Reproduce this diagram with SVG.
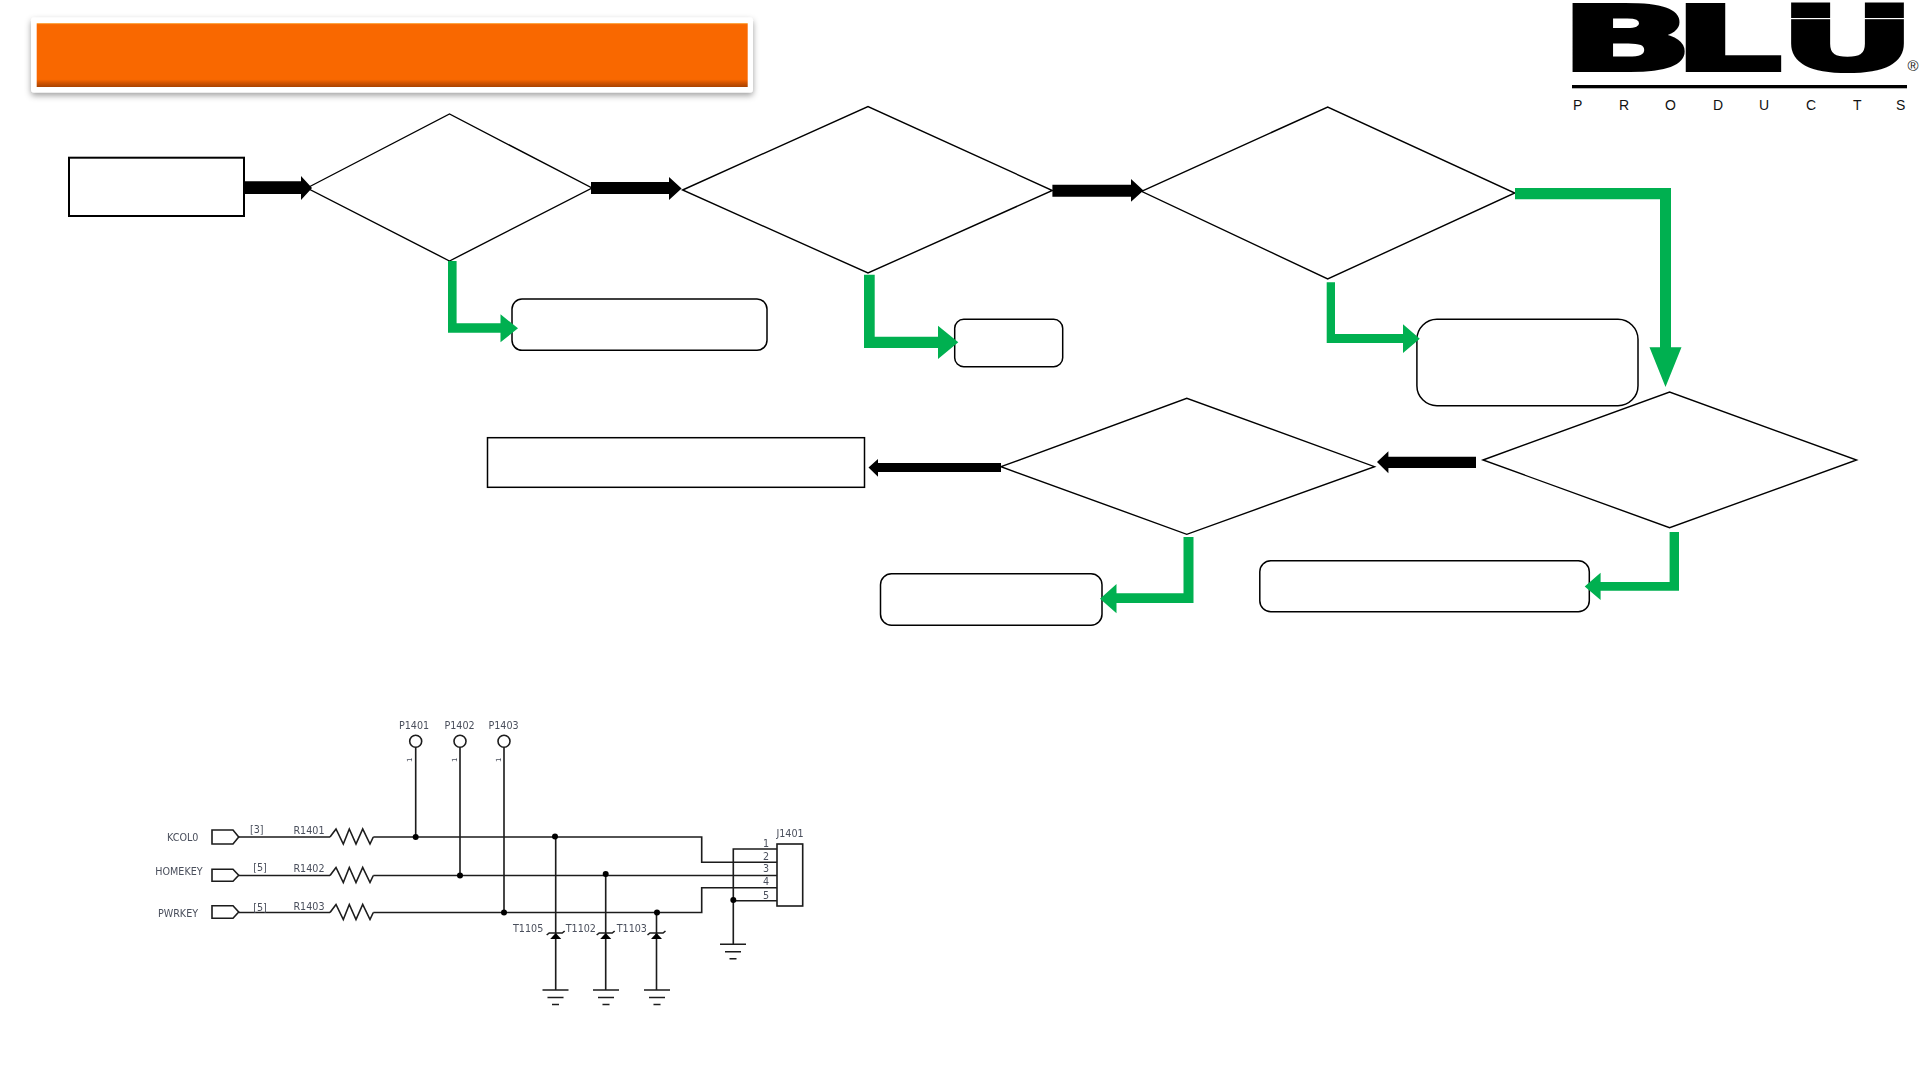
<svg xmlns="http://www.w3.org/2000/svg" width="1920" height="1080" viewBox="0 0 1920 1080">
<style>
.d{fill:#fff;stroke:#000;stroke-width:1.4}
.r{fill:#fff;stroke:#000;stroke-width:1.5}
.s{fill:#fff;stroke:#000;stroke-width:2}
.k{fill:#000;stroke:none}
.g{fill:#00B050;stroke:none}
.w{fill:none;stroke:#1c1c1c;stroke-width:1.6}
.t{font-family:"DejaVu Sans",Verdana,sans-serif;font-size:9.6px;fill:#4a4f5c}
.m{text-anchor:middle}
.p{font-family:"Liberation Sans",Arial,sans-serif;font-size:14px;fill:#111}
.b{font-family:"DejaVu Sans",sans-serif;font-weight:700;font-size:89px;fill:#000;stroke:#000;stroke-width:4;stroke-linejoin:miter}
</style>
<defs>
<linearGradient id="og" x1="0" y1="0" x2="0" y2="1">
<stop offset="0" stop-color="#FFC060"/><stop offset=".025" stop-color="#F96800"/><stop offset=".88" stop-color="#F96800"/><stop offset=".93" stop-color="#D45500"/><stop offset="1" stop-color="#A84200"/>
</linearGradient>
<filter id="sh" x="-5%" y="-25%" width="110%" height="150%"><feDropShadow dx="0" dy="3" stdDeviation="3" flood-color="#000" flood-opacity=".38"/></filter>
<filter id="soft" x="-5%" y="-5%" width="110%" height="110%"><feGaussianBlur stdDeviation=".45"/></filter>
<g id="gnd"><path class="w" d="M-13 0H13M-8 7.500H8M-3.500 14.500H3.500"/></g>
<g id="tvs"><path class="k" d="M0 0L5.500 6H-5.500Z"/><path class="w" d="M-9 2L-6.500 0H6.500L9 -2"/></g>
<path id="res" class="w" d="M0 0L6 -8L13.300 7L19.300 -8L26 7L32.700 -8L40 7L43.300 0"/>
</defs>

<g id="title"><rect x="31" y="17.500" width="722" height="75" rx="3" fill="#fff" filter="url(#sh)"/><rect x="36.700" y="23" width="711" height="64" fill="url(#og)"/></g>

<g id="logo">
<text class="b" x="1560.500" y="70" textLength="132.500" lengthAdjust="spacingAndGlyphs">B</text>
<text class="b" x="1674" y="70" textLength="108" lengthAdjust="spacingAndGlyphs">L</text>
<text class="b" x="1779.600" y="70" textLength="136" lengthAdjust="spacingAndGlyphs">U</text>
<rect x="1785" y="18" width="130" height="1.200" fill="#fff"/>
<rect x="1572" y="85" width="335" height="3.300" fill="#000"/>
<text class="p" y="110" x="1573 1619 1665 1713 1759 1806 1853 1896">PRODUCTS</text>
<text x="1913" y="71" text-anchor="middle" font-family="Liberation Sans, Arial, sans-serif" font-size="15" fill="#222">®</text>
</g>

<g id="box-start"><rect class="s" x="69" y="157.700" width="175" height="58.300"/></g>
<g id="dec-1"><polygon class="d" points="307,188 449.500,114 592,188 449.500,261"/></g>
<g id="dec-2"><polygon class="d" points="682.600,190 868,106.500 1052.400,190.500 868,273"/></g>
<g id="dec-3"><polygon class="d" points="1141.500,191.300 1327.700,107 1514.800,193 1327.700,279"/></g>
<g id="dec-4"><polygon class="d" points="1483,460 1669.600,392 1856.600,460 1669.600,527.700"/></g>
<g id="dec-5"><polygon class="d" points="1001,466.700 1186.800,398.300 1374.500,466.700 1186.800,534.300"/></g>
<g id="box-a"><rect class="r" x="512" y="299" width="255" height="51.300" rx="10"/></g>
<g id="box-b"><rect class="r" x="954.700" y="319.300" width="108" height="47.400" rx="9"/></g>
<g id="box-c"><rect class="r" x="1416.900" y="319.300" width="221.100" height="86.400" rx="20"/></g>
<g id="box-d"><rect class="r" x="1259.800" y="560.700" width="329.500" height="51" rx="11"/></g>
<g id="box-e"><rect class="r" x="880.500" y="573.700" width="221.500" height="51.600" rx="11"/></g>
<g id="box-end"><rect class="r" x="487.500" y="437.700" width="377" height="49.600"/></g>

<g id="connectors">
<polygon class="k" points="244,181.300 301,181.300 301,176 312,188 301,200 301,194 244,194"/>
<polygon class="k" points="591,182 669,182 669,177 681.600,188.500 669,200 669,194 591,194"/>
<polygon class="k" points="1052.400,184.700 1131,184.700 1131,179 1143.500,190.500 1131,201.700 1131,196.700 1052.400,196.700"/>
<polygon class="k" points="1476,456.700 1388.400,456.700 1388.400,451.300 1377,462 1388.400,473.300 1388.400,468 1476,468"/>
<polygon class="k" points="1001,463 878,463 878,459 868.500,467.500 878,476.700 878,472 1001,472"/>
<polygon class="g" points="448,261 456.600,261 456.600,323.300 500.500,323.300 500.500,314.300 518,328.300 500.500,342.300 500.500,332.700 448,332.700"/>
<polygon class="g" points="864,274.700 874.700,274.700 874.700,336.700 938,336.700 938,325.700 958.300,342.300 938,359 938,348 864,348"/>
<polygon class="g" points="1326.700,282.300 1335,282.300 1335,334 1403,334 1403,324.300 1419.800,338.700 1403,353 1403,343 1326.700,343"/>
<polygon class="g" points="1515,188 1671,188 1671,347.300 1681.500,347.300 1665.500,387 1649.500,347.300 1660,347.300 1660,199.300 1515,199.300"/>
<polygon class="g" points="1669.600,532 1679,532 1679,590.700 1600.600,590.700 1600.600,600 1584.700,586.500 1600.600,572.700 1600.600,582 1669.600,582"/>
<polygon class="g" points="1183.500,537 1193.500,537 1193.500,603 1116.500,603 1116.500,613.300 1100,598.700 1116.500,584 1116.500,593.300 1183.500,593.300"/>
</g>

<g id="schematic" filter="url(#soft)">
<circle class="w" cx="415.700" cy="741.300" r="6"/><circle class="w" cx="460" cy="741.300" r="6"/><circle class="w" cx="504" cy="741.300" r="6"/>
<path class="w" d="M415.700 747.300V837M460 747.300V875.500M504 747.300V912.700"/>
<path class="w" d="M212 830H233L238.700 837L233 844H212ZM212 869.300H233L238.700 875.300L233 881.300H212ZM212 905.700H233L238.700 912L233 918.300H212Z"/>
<path class="w" d="M238.700 837H330M238.700 875.500H330M238.700 912.500H330"/>
<use href="#res" x="330" y="837"/><use href="#res" x="330" y="875.500"/><use href="#res" x="330" y="912.500"/>
<path class="w" d="M373.300 837H701.700V862.300H777M373.300 875.500H777M373.300 912.500H701.700V887.700H777"/>
<path class="w" d="M555.700 837V990M605.700 875.500V990M656.500 912.500V990"/>
<rect class="w" x="777" y="844" width="25.700" height="62"/>
<path class="w" d="M777 849H733.300V944.300M733.300 900.700H777"/>
<g class="k"><circle cx="415.700" cy="837" r="3"/><circle cx="460" cy="875.500" r="3"/><circle cx="504" cy="912.500" r="3"/><circle cx="555" cy="836.500" r="3"/><circle cx="605.700" cy="874" r="3"/><circle cx="657" cy="912.500" r="3"/><circle cx="733.300" cy="900" r="3"/></g>
<use href="#tvs" x="555.700" y="933"/><use href="#tvs" x="605.700" y="933"/><use href="#tvs" x="656.500" y="933"/>
<use href="#gnd" x="555.500" y="990"/><use href="#gnd" x="606" y="990"/><use href="#gnd" x="657" y="990"/><use href="#gnd" x="733" y="944.300"/>
<g class="t">
<text class="m" x="414" y="729">P1401</text><text class="m" x="459.500" y="729">P1402</text><text class="m" x="503.500" y="729">P1403</text>
<text class="m" x="182.700" y="841">KCOL0</text><text class="m" x="179" y="875.300">HOMEKEY</text><text class="m" x="178" y="916.700">PWRKEY</text>
<text class="m" x="256.700" y="832.700">[3]</text><text class="m" x="260" y="871">[5]</text><text class="m" x="260" y="910.700">[5]</text>
<text class="m" x="309" y="834.300">R1401</text><text class="m" x="309" y="872">R1402</text><text class="m" x="309" y="910">R1403</text>
<text x="513" y="931.700">T1105</text><text x="565.700" y="931.700">T1102</text><text x="616.700" y="931.700">T1103</text>
<text class="m" x="790" y="836.700">J1401</text>
<text class="m" x="766" y="846.700">1</text><text class="m" x="766" y="860">2</text><text class="m" x="766" y="872">3</text><text class="m" x="766" y="885.300">4</text><text class="m" x="766" y="898.700">5</text>
<text style="font-size:7px" transform="translate(412 762) rotate(-90)">1</text><text style="font-size:7px" transform="translate(456.500 762) rotate(-90)">1</text><text style="font-size:7px" transform="translate(500.500 762) rotate(-90)">1</text>
</g>
</g>
</svg>
